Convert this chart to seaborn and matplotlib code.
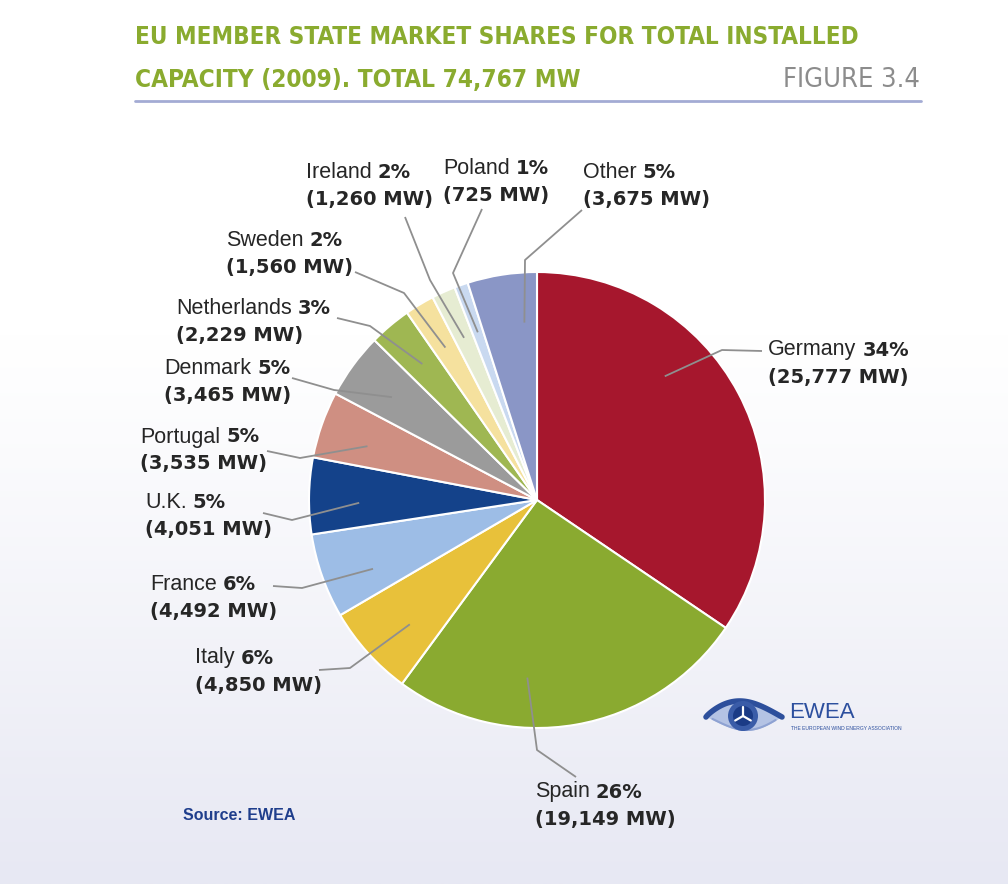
import numpy as np
import pandas as pd
import matplotlib
matplotlib.use("Agg")
import matplotlib.pyplot as plt
import seaborn as sns
from matplotlib import font_manager
from matplotlib.font_manager import FontProperties
from matplotlib.patches import Circle, Polygon
from matplotlib.colors import to_rgb

# ---------------- data ----------------
countries = ["Germany", "Spain", "Italy", "France", "U.K.", "Portugal",
             "Denmark", "Netherlands", "Sweden", "Ireland", "Poland", "Other"]
capacity_mw = [25777, 19149, 4850, 4492, 4051, 3535, 3465, 2229, 1560, 1260, 725, 3675]
slice_colors = ["#a6172d", "#8aaa30", "#e8c13a", "#9dbde6", "#14428a", "#cf8f82",
                "#9b9b9b", "#9fb752", "#f5e19e", "#e6ecd2", "#c9d9f0", "#8a96c6"]
title_line1 = "EU MEMBER STATE MARKET SHARES FOR TOTAL INSTALLED"
title_line2 = "CAPACITY (2009). TOTAL 74,767 MW"
figure_tag = "FIGURE 3.4"

df = pd.DataFrame({"country": countries, "mw": capacity_mw})
total = df["mw"].sum()
df["pct"] = (100 * df["mw"] / total).round().astype(int)

# ---------------- layout (pixels) ----------------
W, H = 1008, 884
center = (537, 500)
radius = 228
label_xy = [(768, 350), (535, 792), (195, 658), (150, 584), (145, 502), (140, 437),
            (164, 368), (176, 309), (226, 240), (306, 172), (443, 168), (583, 172)]
elbow_xy = [(722, 350), (537, 750), (350, 668), (302, 588), (292, 520), (300, 458),
            (334, 390), (370, 326), (404, 293), (430, 280), (453, 273), (525, 260)]
end_xy = [(762, 351), (576, 777), (319, 670), (273, 586), (263, 513), (267, 451),
          (292, 378), (337, 318), (355, 272), (405, 217), (482, 209), (582, 210)]
anchor_t = [0.37, 0.64, 0.40, 0.35, 0.40, 0.40, 0.45, 0.5, 0.5, 0.5, 0.5, 0.77]
anchor_r = 0.78
line_gap = 27

sns.set_theme(style="white")
names = {f.name for f in font_manager.fontManager.ttflist}
label_font = "Liberation Sans" if "Liberation Sans" in names else "DejaVu Sans"
plt.rcParams["font.family"] = [label_font, "DejaVu Sans"]

# look for a condensed / narrow face for the title
cond_bold, cond_reg = None, None
for f in font_manager.fontManager.ttflist:
    fn = f.fname.lower()
    if ("condensed" in fn or "narrow" in fn or f.stretch in ("condensed", "semi-condensed")) \
            and "italic" not in fn and "oblique" not in fn:
        if f.weight in ("bold", 700, "semibold", 600) or "bold" in fn:
            cond_bold = cond_bold or f.fname
        else:
            cond_reg = cond_reg or f.fname


def title_props(bold):
    path = cond_bold if bold else cond_reg
    if path is None:
        path = cond_reg if bold else cond_bold
    if path is not None:
        return FontProperties(fname=path)
    return FontProperties(family=label_font, weight="bold" if bold else "normal")


fig = plt.figure(figsize=(W / 100, H / 100), dpi=100)
ax = fig.add_axes([0, 0, 1, 1])

# background gradient (white top, pale lavender bottom)
top = np.array(to_rgb("#ffffff"))
bot = np.array(to_rgb("#e7e8f3"))
yy = np.linspace(0, 1, 400)
w = np.clip((yy - 0.38) / 0.62, 0, 1) ** 1.1
grad = (top[None, :] * (1 - w[:, None]) + bot[None, :] * w[:, None])[:, None, :]
ax.imshow(grad, extent=[0, W, H, 0], aspect="auto", zorder=0)

wedges, _ = ax.pie(df["mw"], colors=sns.color_palette(slice_colors), startangle=270,
                   counterclock=True, center=center, radius=radius,
                   wedgeprops=dict(edgecolor="white", linewidth=1.5, zorder=2))

ax.set_xlim(0, W)
ax.set_ylim(H, 0)
ax.set_aspect("equal")
ax.axis("off")

fig.canvas.draw()
renderer = fig.canvas.get_renderer()
txt_color = "#262626"
fs_name = 15.5
fs_bold = 14

for i, wdg in enumerate(wedges):
    th = np.deg2rad(wdg.theta1 + anchor_t[i] * (wdg.theta2 - wdg.theta1))
    sx = center[0] + anchor_r * radius * np.cos(th)
    sy = center[1] + anchor_r * radius * np.sin(th)
    ex, ey = elbow_xy[i]
    fx, fy = end_xy[i]
    ax.plot([sx, ex, fx], [sy, ey, fy], color="#8f8f8f", lw=1.3, zorder=3,
            solid_capstyle="butt")
    lx, ly = label_xy[i]
    t1 = ax.text(lx, ly, df["country"][i], fontsize=fs_name, color=txt_color,
                 ha="left", va="center", zorder=4)
    bb = t1.get_window_extent(renderer=renderer)
    ax.text(lx + bb.width + 6, ly, f"{df['pct'][i]}%", fontsize=fs_bold, color=txt_color,
            family="DejaVu Sans", fontweight="bold", ha="left", va="center", zorder=4)
    ax.text(lx, ly + line_gap, f"({df['mw'][i]:,} MW)", fontsize=fs_bold, color=txt_color,
            family="DejaVu Sans", fontweight="bold", ha="left", va="center", zorder=4)


def fitted_text(x, y, s, target_w, props, max_size, **kw):
    t = ax.text(x, y, s, fontproperties=props, **kw)
    t.set_fontsize(max_size)
    bw = t.get_window_extent(renderer=renderer).width
    if bw > target_w:
        t.set_fontsize(max_size * target_w / bw)
    return t


# title
title_green = "#8aab2f"
fitted_text(135, 37, title_line1, 725, title_props(True), 24, color=title_green,
            ha="left", va="center")
fitted_text(135, 80, title_line2, 445, title_props(True), 24, color=title_green,
            ha="left", va="center")
fitted_text(920, 80, figure_tag, 138, title_props(False), 24, color="#8c8c8c",
            ha="right", va="center")
ax.plot([135, 921], [101, 101], color="#a3abd4", lw=2, zorder=3)

# source
ax.text(183, 816, "Source: EWEA", fontsize=11.5, color="#1f3e8c", fontweight="bold",
        ha="left", va="center")

# logo: stylised eye
ex0, ex1, ecy = 706, 782, 717
tt = np.linspace(0, 1, 60)
xs = ex0 + (ex1 - ex0) * tt
upper = ecy - 16 * np.sin(np.pi * tt ** 0.85)
lower = ecy + 14 * np.sin(np.pi * tt ** 1.1)
almond = np.column_stack([np.r_[xs, xs[::-1]], np.r_[upper, lower[::-1]]])
ax.add_patch(Polygon(almond, closed=True, facecolor="#b4c3e4", edgecolor="none", zorder=3))
ax.plot(xs, upper, color="#2d4f9c", lw=4, zorder=4, solid_capstyle="round")
ax.plot(xs[5:55], lower[5:55] - 1, color="#8ea2d2", lw=1.5, zorder=4)
ax.add_patch(Circle((743, 716), 15, facecolor="#3a5ca8", edgecolor="none", zorder=5))
ax.add_patch(Circle((743, 716), 10, facecolor="#1b3b86", edgecolor="none", zorder=6))
for ang in (90, 210, 330):
    a = np.deg2rad(ang)
    ax.plot([743, 743 + 9 * np.cos(a)], [716, 716 - 9 * np.sin(a)], color="white",
            lw=1.6, zorder=7, solid_capstyle="round")
ax.text(789, 713, "EWEA", fontsize=16, color="#2c4f9e", ha="left", va="center")
ax.text(791, 728, "THE EUROPEAN WIND ENERGY ASSOCIATION", fontsize=3.6, color="#2c4f9e",
        ha="left", va="center")

fig.savefig("out.png", dpi=100)
